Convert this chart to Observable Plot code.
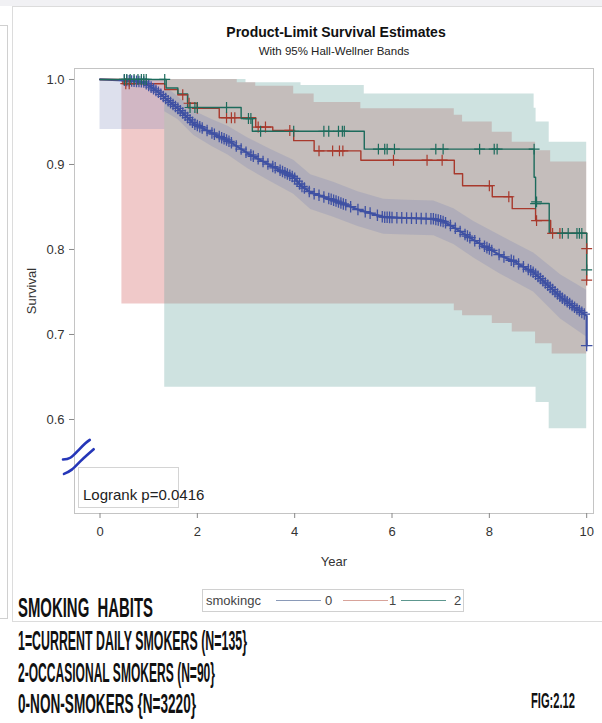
<!DOCTYPE html>
<html>
<head>
<meta charset="utf-8">
<script src="https://cdn.jsdelivr.net/npm/d3@7"></script>
<script src="https://cdn.jsdelivr.net/npm/@observablehq/plot@0.6"></script>
<style>
  html, body { margin: 0; padding: 0; }
  body { width: 602px; height: 723px; position: relative; background: #fff; overflow: hidden;
         font-family: "Liberation Sans", Arial, sans-serif; }
  .abs { position: absolute; }
  .cap { position: absolute; left: 18px; font-family: "Liberation Sans", Arial, sans-serif;
         font-weight: bold; font-size: 27px; color: #111; white-space: pre; transform-origin: 0 0; line-height: 1; }
  .lg { position: absolute; top: 0; line-height: 21px; }
  .ll { position: absolute; top: 10px; height: 0; }
</style>
</head>
<body>
<div class="abs" style="left:0;top:0;width:602px;height:6px;background:#f1f1f4"></div>
<div class="abs" style="left:0;top:25px;width:7px;height:592px;border-top:1px solid #d0d0d0;border-right:1px solid #d0d0d0;border-bottom:1px solid #d0d0d0"></div>
<div class="abs" style="left:12px;top:6px;width:592px;height:614px;border:1px solid #dcdcdc;border-right:none"></div>
<div id="chart" class="abs" style="left:0;top:0"></div>
<div class="abs" style="left:0;width:602px;top:24px;text-align:center;padding-left:70px;box-sizing:border-box;font-weight:bold;font-size:14px;color:#111">Product-Limit Survival Estimates</div>
<div class="abs" style="left:0;width:602px;top:45px;text-align:center;padding-left:66px;box-sizing:border-box;font-size:11.5px;color:#222">With 95% Hall-Wellner Bands</div>
<div class="abs" style="left:78px;top:467px;width:99px;height:39px;border:1px solid #d4d4d4;background:#fff"></div>
<div class="abs" style="left:83px;top:486px;font-size:15px;color:#222">Logrank p=0.0416</div>
<div id="legend" class="abs" style="left:202px;top:589px;width:260px;height:21px;border:1px solid #d0d0d0;background:#fff;font-size:13px;color:#444;white-space:nowrap"></div>
<div class="cap" id="c1" style="top:595px">SMOKING  HABITS</div>
<div class="cap" id="c2" style="top:628px">1=CURRENT DAILY SMOKERS (N=135}</div>
<div class="cap" id="c3" style="top:660px">2-OCCASIONAL SMOKERS (N=90}</div>
<div class="cap" id="c4" style="top:691px">0-NON-SMOKERS {N=3220}</div>
<div class="cap" id="c5" style="top:690px;left:531px;font-size:22px">FIG:2.12</div>
<script>
// ---------- data ----------
const groups = ["0", "1", "2"];
const groupColors = ["#3f51a3", "#a8392c", "#1d6b5c"];
const bandColors = ["#6f7eb3", "#d05b5b", "#66a5a0"];
const legendLineColors = ["#8a9ab8", "#d8a39a", "#5d978f"];

const xTicks = [0, 2, 4, 6, 8, 10];
const yTicks = [0.6, 0.7, 0.8, 0.9, 1.0];

// group 0 (non-smokers) Kaplan-Meier estimate
const blueT = [0, 0.5, 0.9, 1.0, 1.2, 1.4, 1.6, 1.93, 2.3, 2.63, 3.04, 3.5, 3.98, 4.13, 4.33, 4.8, 5.3, 5.83, 6.3, 6.86, 7.05, 7.27, 7.68, 8.23, 8.5, 8.91, 9.2, 9.47, 9.75, 10.0, 10.0];
const blueS = [1.0, 0.999, 0.997, 0.993, 0.985, 0.975, 0.966, 0.948, 0.937, 0.928, 0.913, 0.899, 0.885, 0.875, 0.867, 0.858, 0.847, 0.838, 0.837, 0.836, 0.833, 0.826, 0.811, 0.793, 0.786, 0.773, 0.758, 0.744, 0.732, 0.722, 0.687];
const blueCensor = [0.5,0.55,0.6,0.65,0.7,0.75,0.8,0.85,0.9,0.95,1.0,1.05,1.1,1.15,1.2,1.25,1.3,1.35,1.4,1.45,1.5,1.55,1.6,1.65,1.7,1.75,1.8,1.85,1.9,1.95,2.0,2.05,2.1,2.2,2.3,2.35,2.45,2.5,2.55,2.6,2.65,2.7,2.8,2.9,3.0,3.1,3.15,3.25,3.35,3.45,3.55,3.6,3.7,3.75,3.8,3.85,3.9,3.95,4.0,4.05,4.1,4.15,4.2,4.3,4.4,4.5,4.6,4.7,4.75,4.8,4.85,4.9,4.95,5.0,5.05,5.15,5.3,5.45,5.55,5.7,5.8,5.85,5.9,5.95,6.0,6.1,6.2,6.3,6.4,6.5,6.6,6.7,6.8,6.85,6.9,6.95,7.0,7.05,7.1,7.2,7.3,7.4,7.5,7.55,7.6,7.7,7.8,7.9,7.95,8.0,8.05,8.2,8.3,8.45,8.5,8.6,8.7,8.8,8.85,8.9,8.95,9.0,9.05,9.1,9.15,9.2,9.25,9.3,9.35,9.4,9.45,9.5,9.55,9.6,9.65,9.7,9.75,9.8,9.85,9.9,9.95,10.0];
const blueBandT  = [0, 1.33, 1.33, 1.6, 1.93, 2.3, 2.63, 3.04, 3.5, 3.98, 4.33, 4.8, 5.3, 5.83, 6.3, 6.86, 7.27, 7.68, 8.23, 8.91, 9.47, 10.0];
const blueBandLo = [0.941, 0.941, 0.962, 0.953, 0.934, 0.921, 0.911, 0.895, 0.880, 0.865, 0.847, 0.838, 0.827, 0.818, 0.817, 0.816, 0.806, 0.790, 0.771, 0.750, 0.718, 0.697];
const blueBandHi = [1.0, 1.0, 0.992, 0.980, 0.963, 0.953, 0.945, 0.931, 0.918, 0.905, 0.888, 0.879, 0.868, 0.859, 0.858, 0.857, 0.848, 0.833, 0.816, 0.796, 0.770, 0.752];

// group 1 (current daily smokers)
const redT = [0, 0.47, 1.33, 1.6, 1.8, 2.0, 2.45, 3.2, 3.55, 3.98, 4.40, 5.36, 7.28, 7.45, 8.06, 8.47, 8.95, 9.26, 10.0, 10.0];
const redS = [1.0, 0.995, 0.988, 0.982, 0.972, 0.966, 0.955, 0.944, 0.940, 0.928, 0.916, 0.905, 0.889, 0.875, 0.862, 0.848, 0.834, 0.819, 0.801, 0.764];
const redCensorT = [0.53, 0.6, 1.7, 1.83, 2.0, 2.6, 2.7, 2.77, 3.25, 3.4, 3.9, 4.5, 4.78, 4.92, 4.99, 6.03, 6.72, 7.03, 8.0, 8.4, 8.97, 9.3, 9.45, 10.0, 10.0];
const redCensorS = [0.995, 0.995, 0.982, 0.972, 0.966, 0.955, 0.955, 0.955, 0.944, 0.944, 0.940, 0.916, 0.916, 0.916, 0.916, 0.905, 0.905, 0.905, 0.875, 0.862, 0.834, 0.819, 0.819, 0.801, 0.764];
const redBandT  = [0.45, 2.82, 3.2, 3.98, 4.40, 5.36, 7.28, 7.45, 8.06, 8.47, 8.95, 9.26, 9.29, 10.0];
const redBandLo = [0.736, 0.736, 0.736, 0.736, 0.736, 0.736, 0.728, 0.722, 0.713, 0.703, 0.689, 0.689, 0.677, 0.677];
const redBandHi = [1.0, 0.996, 0.992, 0.983, 0.973, 0.9655, 0.958, 0.950, 0.938, 0.926, 0.916, 0.903, 0.903, 0.903];

// group 2 (occasional smokers)
const greenT = [0, 1.36, 1.6, 1.8, 2.9, 3.13, 5.43, 8.92, 8.95, 9.23, 10.0, 10.0];
const greenS = [1.0, 0.990, 0.983, 0.967, 0.954, 0.939, 0.918, 0.885, 0.854, 0.819, 0.819, 0.776];
const greenCensorT = [0.5, 0.55, 0.62, 0.7, 0.78, 0.85, 0.9, 0.95, 1.33, 1.85, 1.95, 2.0, 2.6, 3.05, 3.1, 3.3, 3.98, 4.6, 4.7, 4.9, 4.98, 5.02, 5.72, 5.85, 5.9, 6.05, 6.9, 7.05, 7.8, 8.1, 8.16, 8.92, 8.95, 8.97, 9.5, 9.62, 9.8, 9.85, 9.9, 10.0];
const greenCensorS = [1, 1, 1, 1, 1, 1, 1, 1, 1, 0.967, 0.967, 0.967, 0.967, 0.954, 0.954, 0.939, 0.939, 0.939, 0.939, 0.939, 0.939, 0.939, 0.918, 0.918, 0.918, 0.918, 0.918, 0.918, 0.918, 0.918, 0.918, 0.918, 0.854, 0.856, 0.819, 0.819, 0.819, 0.819, 0.819, 0.776];
const greenBandT  = [1.33, 3.0, 4.13, 5.43, 8.92, 8.96, 9.23, 10.0];
const greenBandLo = [0.638, 0.638, 0.638, 0.638, 0.638, 0.620, 0.589, 0.589];
const greenBandHi = [1.0, 0.996, 0.993, 0.983, 0.966, 0.950, 0.926, 0.926];

// hand-drawn axis-break strokes (data coordinates)
const break1X = [-0.76, -0.61, -0.44, -0.30, -0.21];
const break1Y = [0.553, 0.555, 0.564, 0.572, 0.576];
const break2X = [-0.74, -0.58, -0.40, -0.23, -0.13];
const break2Y = [0.536, 0.541, 0.551, 0.560, 0.565];

// ---------- build tables ----------
const zip = (T, S) => T.map((t, i) => ({t, s: S[i]}));
const band = (T, L, H) => T.map((t, i) => ({t, lo: L[i], hi: H[i]}));
const blue = zip(blueT, blueS);
const blueInterp = t => {
  for (let i = 1; i < blue.length; i++) {
    if (blue[i].t >= t) {
      const a = blue[i - 1], b = blue[i];
      const f = b.t === a.t ? 0 : (t - a.t) / (b.t - a.t);
      return a.s + f * (b.s - a.s);
    }
  }
  return blue[blue.length - 1].s;
};
const blueCens = blueCensor.map(t => ({t, s: t === 10 ? blueS[blueS.length - 1] : blueInterp(t)}));
const breaks = [...zip(break1X, break1Y).map(d => ({...d, k: "a"})), ...zip(break2X, break2Y).map(d => ({...d, k: "b"}))];

const chart = Plot.plot({
  width: 602, height: 580,
  marginLeft: 74, marginRight: 9, marginTop: 68, marginBottom: 67,
  x: {domain: [-0.524, 10.14]},
  y: {domain: [0.4894, 1.0129]},
  style: {background: "transparent", fontFamily: '"Liberation Sans", Arial, sans-serif', fontSize: "13px", color: "#333"},
  marks: [
    Plot.areaY(band(redBandT, redBandLo, redBandHi), {x: "t", y1: "lo", y2: "hi", curve: "step-after", fill: bandColors[1], fillOpacity: 0.33}),
    Plot.areaY(band(greenBandT, greenBandLo, greenBandHi), {x: "t", y1: "lo", y2: "hi", curve: "step-after", fill: bandColors[2], fillOpacity: 0.32}),
    Plot.areaY(band(blueBandT, blueBandLo, blueBandHi), {x: "t", y1: "lo", y2: "hi", curve: "linear", fill: bandColors[0], fillOpacity: 0.24}),
    Plot.frame({stroke: "#c4c4c4"}),
    Plot.axisX({ticks: xTicks, tickSize: 5, tickPadding: 8, stroke: "#888", label: "Year", labelAnchor: "center", labelArrow: "none", labelOffset: 52}),
    Plot.axisY({ticks: yTicks, tickFormat: d3.format(".1f"), tickSize: 5, tickPadding: 5, stroke: "#888", label: "Survival", labelAnchor: "center", labelArrow: "none", labelOffset: 48}),
    Plot.line(blue, {x: "t", y: "s", stroke: groupColors[0], strokeWidth: 2.2}),
    Plot.line(zip(redT, redS), {x: "t", y: "s", curve: "step-after", stroke: groupColors[1], strokeWidth: 1.4}),
    Plot.line(zip(greenT, greenS), {x: "t", y: "s", curve: "step-after", stroke: groupColors[2], strokeWidth: 1.4}),
    Plot.dot(blueCens, {x: "t", y: "s", symbol: "plus", r: 3.8, fill: "none", stroke: groupColors[0], strokeWidth: 1.3}),
    Plot.dot(zip(redCensorT, redCensorS), {x: "t", y: "s", symbol: "plus", r: 3.6, fill: "none", stroke: groupColors[1], strokeWidth: 1.2}),
    Plot.dot(zip(greenCensorT, greenCensorS), {x: "t", y: "s", symbol: "plus", r: 3.6, fill: "none", stroke: groupColors[2], strokeWidth: 1.2}),
    Plot.line(breaks, {x: "t", y: "s", z: "k", curve: "natural", stroke: "#2536b8", strokeWidth: 2.6, strokeLinecap: "round"})
  ]
});
document.getElementById("chart").appendChild(chart);

// legend (positions inside the legend box)
const leg = document.getElementById("legend");
const legLineX = [73, 140, 198];
const legLabelX = [122, 186, 251];
let html = '<span class="lg" style="left:3px">smokingc</span>';
groups.forEach((g, i) => {
  html += `<span class="ll" style="left:${legLineX[i]}px;width:45px;border-top:1px solid ${legendLineColors[i]}"></span>` +
          `<span class="lg" style="left:${legLabelX[i]}px">${g}</span>`;
});
leg.innerHTML = html;

// fit condensed caption text to widths
const targets = {c1: 135, c2: 229, c3: 197, c4: 178, c5: 44};
for (const [id, w] of Object.entries(targets)) {
  const el = document.getElementById(id);
  const cur = el.getBoundingClientRect().width;
  el.style.transform = `scaleX(${w / cur})`;
}
</script>
</body>
</html>
